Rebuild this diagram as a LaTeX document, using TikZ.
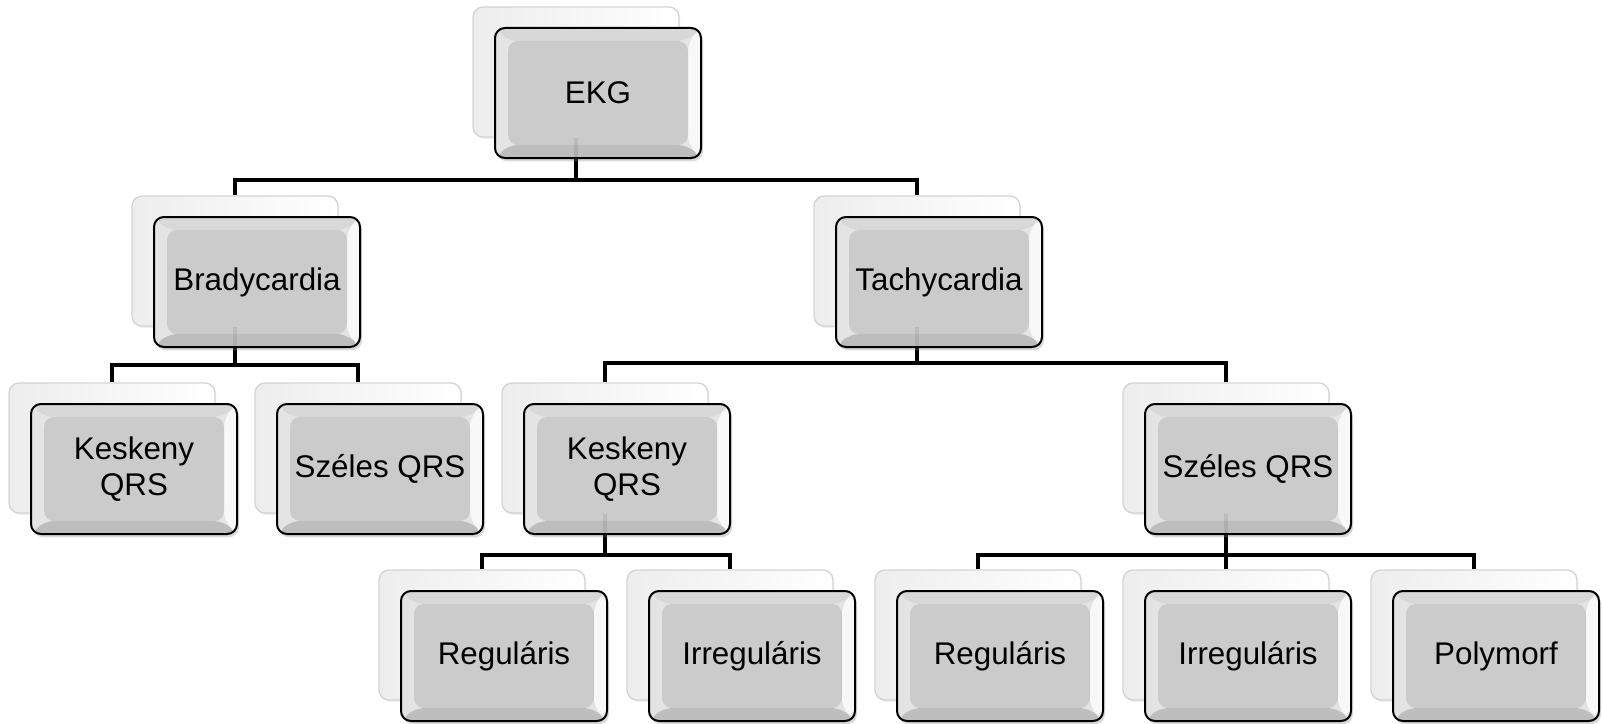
\documentclass[tikz,border=0pt]{standalone}
\usepackage{fontspec}
\setmainfont{Liberation Sans}
\usetikzlibrary{calc,shadows}
\definecolor{boxmid}{HTML}{CBCBCB}
\definecolor{boxtop}{HTML}{D8D8D8}
\definecolor{boxleft}{HTML}{E4E4E4}
\definecolor{boxbot}{HTML}{BDBDBD}
\definecolor{boxright}{HTML}{F8F8F8}
\definecolor{backline}{HTML}{D4D4D4}
\tikzset{
  frontbox/.style={draw=black, line width=1.5pt, rounded corners=7.5pt,
    minimum width=154.5pt, minimum height=97.5pt, inner sep=0pt,
    align=center, font=\fontsize{23.5}{27}\selectfont, fill=boxleft,
    drop shadow={opacity=0.3, shadow xshift=1.5pt, shadow yshift=-2.5pt},
    path picture={
      \coordinate (NE) at (path picture bounding box.north east);
      \coordinate (SE) at (path picture bounding box.south east);
      \coordinate (SW) at (path picture bounding box.south west);
      \coordinate (NW) at (path picture bounding box.north west);
      \fill[boxtop] (NW) -- (NE) -- ($(NE)+(-13,13)$) -- ($(NW)+(13,13)$) -- cycle;
      \fill[boxright] (NE) -- (SE) -- ($(SE)+(-13,-13)$) -- ($(NE)+(-13,13)$) -- cycle;
      \fill[boxbot] (SW) -- (SE) -- ($(SE)+(-13,-13)$) -- ($(SW)+(13,-13)$) -- cycle;
      \fill[boxmid] ($(NW)+(13,13)$) rectangle ($(SE)+(-13,-13)$);
    }},
  backbox/.style={draw=backline, line width=1pt, rounded corners=7.5pt,
    minimum width=154.5pt, minimum height=97.5pt, inner sep=0pt,
    left color=gray!14, right color=white,
    drop shadow={opacity=0.12, shadow xshift=1pt, shadow yshift=-1.5pt}},
  conn/.style={line width=3pt, black},
  ghost/.style={line width=3pt, black, opacity=0.08}
}
\newcommand\backnode[3]{\node[backbox] (#1-b) at ({#2-22},{#3-21}) {};}
\newcommand\frontnode[4]{\node[frontbox] (#1) at (#2,#3) {#4};}
\begin{document}
\begin{tikzpicture}[x=0.75pt,y=-0.75pt]
\useasboundingbox (0,0) rectangle (1602,724);
% back boxes
\backnode{ekg}{598}{93}
\backnode{brady}{257}{282}
\backnode{tachy}{939}{282}
\backnode{kl}{134}{469}
\backnode{sl}{380}{469}
\backnode{kt}{627}{469}
\backnode{st}{1248}{469}
\backnode{r1}{504}{656}
\backnode{i1}{752}{656}
\backnode{r2}{1000}{656}
\backnode{i2}{1248}{656}
\backnode{poly}{1496}{656}
% connectors
\coordinate (ekg-bus) at (576,180);
\draw[conn] (ekg-b.south) -- (ekg-b.south |- ekg-bus) -| (brady-b.north);
\draw[conn] (ekg-b.south |- ekg-bus) -| (tachy-b.north);
\coordinate (brady-bus) at (235,365);
\draw[conn] (brady-b.south) -- (brady-b.south |- brady-bus) -| (kl-b.north);
\draw[conn] (brady-b.south |- brady-bus) -| (sl-b.north);
\coordinate (tachy-bus) at (917,363);
\draw[conn] (tachy-b.south) -- (tachy-b.south |- tachy-bus) -| (kt-b.north);
\draw[conn] (tachy-b.south |- tachy-bus) -| (st-b.north);
\coordinate (kt-bus) at (605,555);
\draw[conn] (kt-b.south) -- (kt-b.south |- kt-bus) -| (r1-b.north);
\draw[conn] (kt-b.south |- kt-bus) -| (i1-b.north);
\coordinate (st-bus) at (1226,555);
\draw[conn] (st-b.south) -- (i2-b.north);
\draw[conn] (st-b.south |- st-bus) -| (r2-b.north);
\draw[conn] (st-b.south |- st-bus) -| (poly-b.north);
% front boxes
\frontnode{ekg}{598}{93}{EKG}
\frontnode{brady}{257}{282}{Bradycardia}
\frontnode{tachy}{939}{282}{Tachycardia}
\frontnode{kl}{134}{469}{Keskeny\\QRS}
\frontnode{sl}{380}{469}{Széles QRS}
\frontnode{kt}{627}{469}{Keskeny\\QRS}
\frontnode{st}{1248}{469}{Széles QRS}
\frontnode{r1}{504}{656}{Reguláris}
\frontnode{i1}{752}{656}{Irreguláris}
\frontnode{r2}{1000}{656}{Reguláris}
\frontnode{i2}{1248}{656}{Irreguláris}
\frontnode{poly}{1496}{656}{Polymorf}
% faint connector traces seen through the front boxes
\draw[ghost] (ekg-b.south) -- (ekg-b.south |- ekg.south);
\draw[ghost] (brady-b.south) -- (brady-b.south |- brady.south);
\draw[ghost] (tachy-b.south) -- (tachy-b.south |- tachy.south);
\draw[ghost] (kt-b.south) -- (kt-b.south |- kt.south);
\draw[ghost] (st-b.south) -- (st-b.south |- st.south);
\end{tikzpicture}
\end{document}
